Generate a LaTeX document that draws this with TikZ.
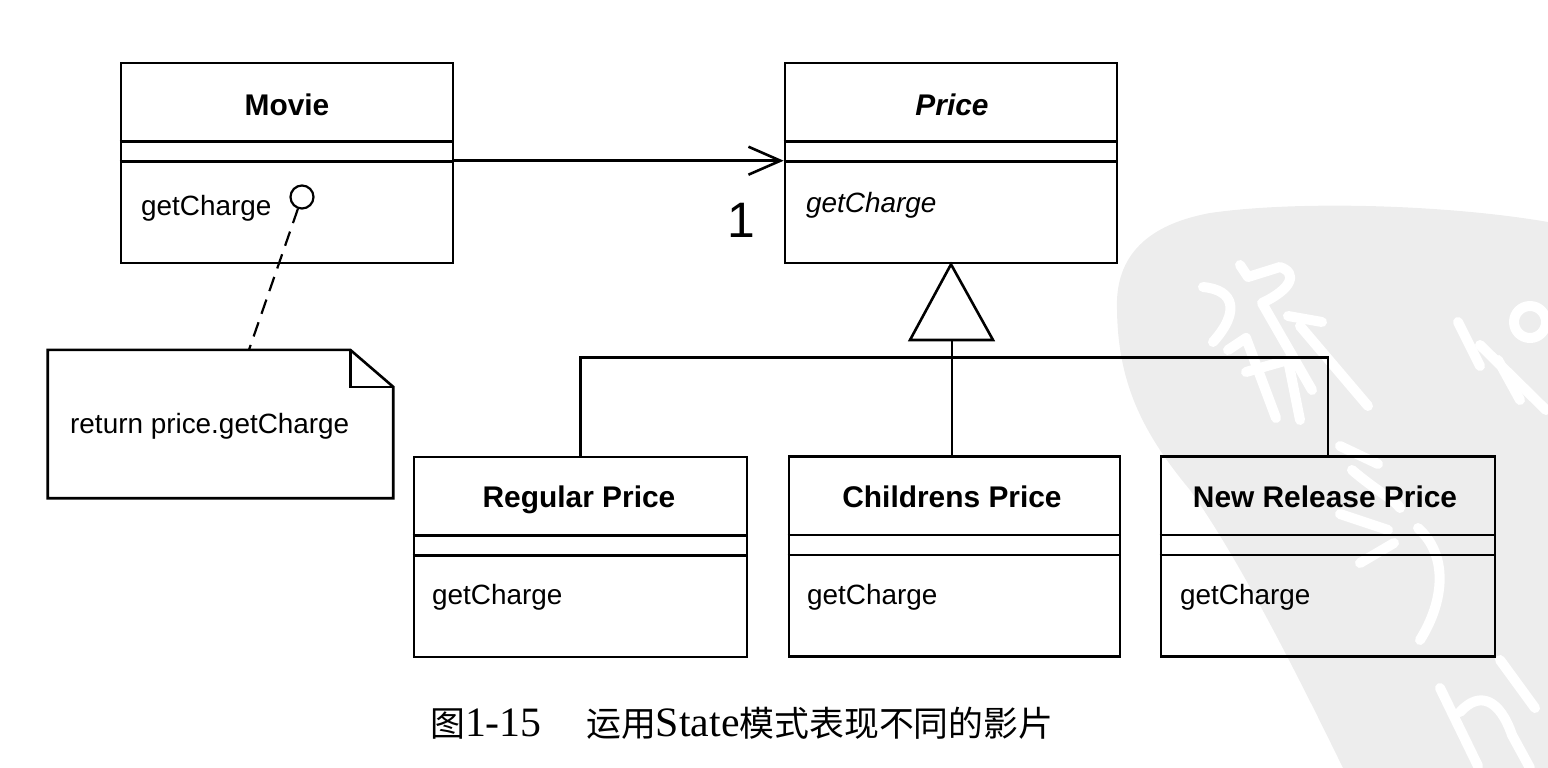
\documentclass[tikz,border=0pt]{standalone}
\usepackage{fontspec}
\setmainfont{Liberation Sans}
\newfontfamily\capserif{Liberation Serif}
\newfontfamily\cjk{Noto Sans CJK SC}
\usetikzlibrary{arrows.meta}

% two compartment separators below the class name
\newcommand\compartments[1]{%
  \draw[umlline] ([yshift=-80bp]#1.north west) -- ([yshift=-80bp]#1.north east);
  \draw[umlline] ([yshift=-100bp]#1.north west) -- ([yshift=-100bp]#1.north east);}

\begin{document}
\begin{tikzpicture}[x=1bp,y=-1bp,
  umlline/.style={line width=2.6bp, draw=black},
  classbox/.style={umlline, rectangle, inner sep=0pt, minimum width=#1, minimum height=200bp},
  title/.style={font=\fontsize{30}{36}\selectfont\bfseries, anchor=base, inner sep=0pt},
  op/.style={font=\fontsize{28}{34}\selectfont, anchor=base west, inner sep=0pt},
  wm/.style={fill=black!7},
  wmstroke/.style={draw=white, line width=10bp, line cap=round, line join=round}]
\useasboundingbox (0,0) rectangle (1548,768);

% grey seal in the lower right corner
\fill[wm] (1548,222) .. controls (1450,205) and (1300,200) .. (1210,213)
  .. controls (1140,226) and (1115,262) .. (1117,310)
  .. controls (1118,380) and (1140,430) .. (1190,490)
  .. controls (1240,560) and (1300,680) .. (1343,768)
  -- (1548,768) -- cycle;
% white brush strokes cut out of the seal
\draw[wmstroke] (1203,287) .. controls (1235,290) and (1240,312) .. (1213,342);
\draw[wmstroke] (1240,265) -- (1248,277) -- (1280,267)
  .. controls (1298,273) and (1292,289) .. (1262,303) -- (1312,390);
\draw[wmstroke] (1288,316) -- (1322,322);
\draw[wmstroke] (1300,326) -- (1368,406);
\draw[wmstroke] (1228,350) -- (1246,338) -- (1276,418);
\draw[wmstroke] (1246,372) -- (1288,360) -- (1300,420);
\draw[wmstroke] (1340,446) -- (1378,464);
\draw[wmstroke] (1352,470) .. controls (1375,490) and (1395,500) .. (1400,508);
\draw[wmstroke] (1340,514) -- (1388,530);
\draw[wmstroke] (1360,563) -- (1394,543);
\draw[wmstroke] (1418,528) .. controls (1448,555) and (1445,600) .. (1420,640);
\draw[wmstroke] (1530,322) circle[radius=16bp];
\draw[wmstroke] (1458,322) -- (1480,366);
\draw[wmstroke] (1480,345) -- (1546,410);
\draw[wmstroke] (1498,360) -- (1520,400);
\draw[wmstroke] (1440,688) -- (1478,766);
\draw[wmstroke] (1460,712) .. controls (1480,690) and (1500,700) .. (1512,735) -- (1530,768);
\draw[wmstroke] (1500,660) -- (1535,708);

% Movie
\node[classbox=332bp] (movie) at (287,163) {};
\compartments{movie}
\node[title] (movieT) at (287,115) {Movie};
\node[op] (movieOp) at (141,215) {getCharge};
\node[draw, line width=2.2bp, circle, minimum size=23bp, inner sep=0pt] (lollipop) at (302,197) {};

% note attached to getCharge
\node[inner sep=0pt, minimum width=345bp, minimum height=148bp] (note) at (220.5,424) {};
\draw[umlline, line join=miter] (note.north west) -- ([xshift=-43bp]note.north east)
  -- ([yshift=-37bp]note.north east) -- (note.south east) -- (note.south west) -- cycle;
\draw[umlline] ([xshift=-43bp]note.north east) |- ([yshift=-37bp]note.north east);
\node[op] (noteT) at (70,433) {return price.getCharge};
\draw[line width=2.2bp, dash pattern=on 15bp off 9bp] (lollipop) -- ([xshift=28.5bp]note.north);

% Price
\node[classbox=332bp] (price) at (951,163) {};
\compartments{price}
\node[title, font=\fontsize{30}{36}\selectfont\bfseries\itshape] (priceT) at (952,115) {Price};
\node[op, font=\fontsize{28}{34}\selectfont\itshape] (priceOp) at (806,212) {getCharge};

% association Movie -> Price
\draw[umlline, -{Straight Barb[length=32bp, width=28bp]}]
  ([yshift=-99bp]movie.north east) -- ([yshift=-99bp]price.north west);
\node[anchor=base, inner sep=0pt, font=\fontsize{50}{56}\selectfont] (mult) at (741,237) {1};

% subclasses
\node[classbox=333bp] (regular) at (580.5,455.5) [anchor=north] {};
\node[classbox=331bp] (childrens) at (954.5,455) [anchor=north] {};
\node[classbox=334bp] (newrel) at (1328,455) [anchor=north] {};
\compartments{regular}
\compartments{childrens}
\compartments{newrel}
\node[title] (regularT) at (579,507) {Regular Price};
\node[title] (childrensT) at (952,507) {Childrens Price};
\node[title] (newrelT) at (1325,507) {New Release Price};
\node[op] (regularOp) at (432,604) {getCharge};
\node[op] (childrensOp) at (807,604) {getCharge};
\node[op] (newrelOp) at (1180,604) {getCharge};

% generalization
\coordinate (inhL) at (910,340);
\coordinate (inhR) at (993,340);
\coordinate (inhB) at (952,340);
\draw[umlline, line join=miter] (price.south) -- (inhL) -- (inhR) -- cycle;
\draw[umlline] (inhB) -- (inhB |- childrens.north);
\draw[umlline] (regular.north) -- ++(0,-98) -| (newrel.north);

% caption
\node[anchor=base west, inner sep=0pt] (figno) at (430,736)
  {\cjk\fontsize{35}{40}\selectfont 图\capserif\fontsize{42}{48}\selectfont 1-15};
\node[anchor=base west, inner sep=0pt] (figtitle) at (586,736)
  {\cjk\fontsize{35}{40}\selectfont 运用{\capserif\fontsize{42}{48}\selectfont State}模式表现不同的影片};
\end{tikzpicture}
\end{document}
